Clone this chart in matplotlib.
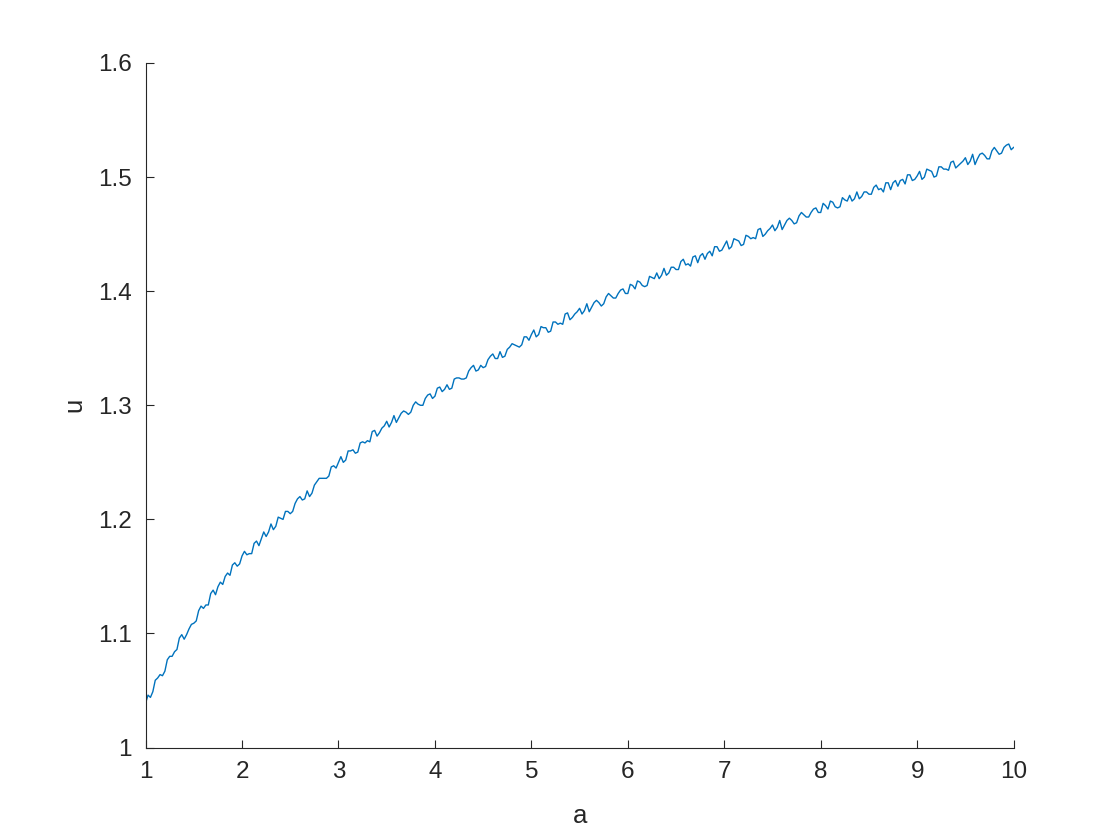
import numpy as np
import matplotlib
matplotlib.use('Agg')
import matplotlib.pyplot as plt

a_start, a_stop = 1.0, 10.0
u_values = [
    1.039, 1.046, 1.044, 1.049, 1.059, 1.061, 1.064, 1.063, 1.067, 1.077,
    1.080, 1.080, 1.084, 1.086, 1.096, 1.099, 1.095, 1.099, 1.104, 1.108,
    1.109, 1.111, 1.120, 1.124, 1.122, 1.125, 1.125, 1.135, 1.138, 1.134,
    1.141, 1.145, 1.143, 1.150, 1.153, 1.151, 1.160, 1.162, 1.159, 1.161,
    1.168, 1.172, 1.169, 1.170, 1.170, 1.179, 1.181, 1.177, 1.183, 1.189,
    1.185, 1.189, 1.196, 1.191, 1.194, 1.202, 1.201, 1.200, 1.207, 1.207,
    1.205, 1.207, 1.214, 1.218, 1.220, 1.217, 1.218, 1.225, 1.220, 1.223,
    1.230, 1.233, 1.236, 1.236, 1.236, 1.236, 1.238, 1.246, 1.247, 1.245,
    1.250, 1.255, 1.250, 1.252, 1.260, 1.260, 1.261, 1.258, 1.259, 1.267,
    1.268, 1.267, 1.269, 1.268, 1.277, 1.278, 1.273, 1.276, 1.280, 1.282,
    1.286, 1.281, 1.285, 1.291, 1.285, 1.289, 1.293, 1.295, 1.294, 1.292,
    1.294, 1.300, 1.303, 1.301, 1.300, 1.300, 1.306, 1.309, 1.310, 1.306,
    1.308, 1.315, 1.316, 1.312, 1.314, 1.318, 1.314, 1.315, 1.323, 1.324,
    1.324, 1.323, 1.323, 1.324, 1.330, 1.333, 1.335, 1.330, 1.331, 1.335,
    1.333, 1.334, 1.340, 1.343, 1.345, 1.341, 1.341, 1.347, 1.342, 1.343,
    1.349, 1.351, 1.354, 1.353, 1.352, 1.351, 1.353, 1.360, 1.360, 1.357,
    1.362, 1.366, 1.360, 1.362, 1.369, 1.368, 1.368, 1.364, 1.365, 1.373,
    1.373, 1.371, 1.372, 1.371, 1.380, 1.381, 1.375, 1.377, 1.380, 1.382,
    1.385, 1.380, 1.383, 1.389, 1.382, 1.386, 1.390, 1.392, 1.390, 1.387,
    1.389, 1.395, 1.398, 1.396, 1.394, 1.394, 1.398, 1.401, 1.402, 1.398,
    1.398, 1.406, 1.405, 1.402, 1.409, 1.408, 1.405, 1.404, 1.405, 1.413,
    1.412, 1.411, 1.416, 1.411, 1.414, 1.420, 1.414, 1.416, 1.421, 1.421,
    1.419, 1.419, 1.426, 1.428, 1.423, 1.424, 1.422, 1.430, 1.431, 1.425,
    1.431, 1.433, 1.428, 1.433, 1.435, 1.431, 1.439, 1.439, 1.435, 1.436,
    1.440, 1.444, 1.437, 1.439, 1.446, 1.445, 1.444, 1.440, 1.441, 1.449,
    1.448, 1.446, 1.447, 1.446, 1.454, 1.455, 1.448, 1.450, 1.453, 1.455,
    1.458, 1.453, 1.456, 1.462, 1.454, 1.458, 1.462, 1.464, 1.462, 1.459,
    1.460, 1.466, 1.469, 1.467, 1.465, 1.465, 1.469, 1.472, 1.473, 1.469,
    1.469, 1.477, 1.475, 1.472, 1.479, 1.478, 1.474, 1.473, 1.474, 1.482,
    1.480, 1.479, 1.484, 1.479, 1.481, 1.487, 1.481, 1.483, 1.487, 1.487,
    1.485, 1.485, 1.491, 1.493, 1.489, 1.490, 1.487, 1.495, 1.495, 1.489,
    1.495, 1.497, 1.492, 1.497, 1.498, 1.494, 1.502, 1.502, 1.497, 1.498,
    1.501, 1.505, 1.498, 1.500, 1.507, 1.506, 1.505, 1.500, 1.501, 1.509,
    1.509, 1.507, 1.507, 1.506, 1.513, 1.514, 1.508, 1.510, 1.512, 1.514,
    1.517, 1.511, 1.514, 1.520, 1.511, 1.516, 1.520, 1.521, 1.519, 1.516,
    1.516, 1.523, 1.526, 1.523, 1.520, 1.521, 1.526, 1.528, 1.529, 1.524,
    1.526,
]
a_values = np.linspace(a_start, a_stop, len(u_values))

x_ticks = [1, 2, 3, 4, 5, 6, 7, 8, 9, 10]
y_ticks = [1, 1.1, 1.2, 1.3, 1.4, 1.5, 1.6]
y_tick_labels = ['1', '1.1', '1.2', '1.3', '1.4', '1.5', '1.6']

plt.rcParams['font.family'] = ['Liberation Sans', 'DejaVu Sans']
axis_color = '#262626'

fig = plt.figure(figsize=(11.2, 8.4), dpi=100)
ax = fig.add_axes([0.13, 0.11, 0.775, 0.815])

ax.plot(a_values, u_values, '-', color='#0072BD', lw=1.0)

ax.set_xlim(1, 10)
ax.set_ylim(1, 1.6)
ax.set_xticks(x_ticks)
ax.set_yticks(y_ticks)
ax.set_yticklabels(y_tick_labels)

for side in ['top', 'right']:
    ax.spines[side].set_visible(False)
for side in ['left', 'bottom']:
    ax.spines[side].set_color(axis_color)
    ax.spines[side].set_linewidth(0.8)

ax.tick_params(axis='both', direction='in', length=6, width=0.8,
               colors=axis_color, labelsize=17.5)
ax.tick_params(axis='x', pad=10)
ax.tick_params(axis='y', pad=10)

ax.set_xlabel('a', fontsize=18.5, color=axis_color, labelpad=15)
ax.set_ylabel('u', fontsize=18.5, color=axis_color, labelpad=8)

fig.savefig('out.png', dpi=100)
